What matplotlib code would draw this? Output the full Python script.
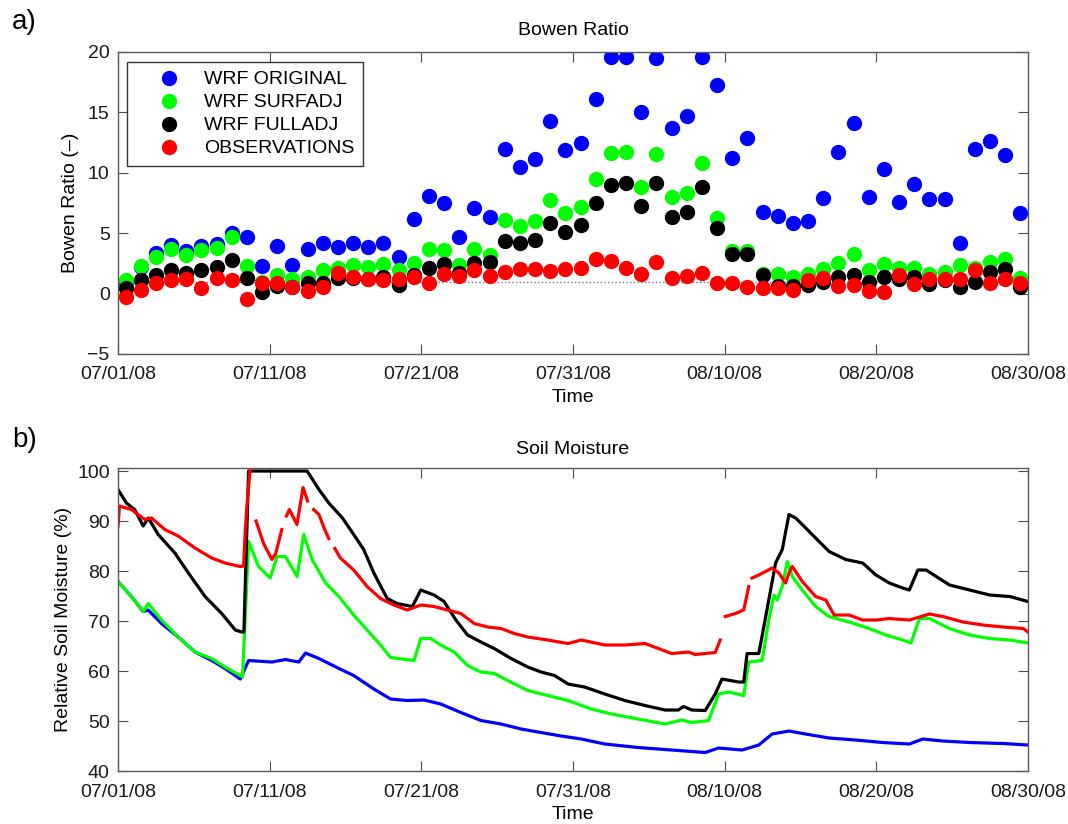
import numpy as np
import matplotlib
matplotlib.use("Agg")
import matplotlib.pyplot as plt

plt.rcParams['font.family'] = ['Liberation Sans', 'DejaVu Sans']
plt.rcParams['font.size'] = 14

# days since 07/01/08
tick_days = [0, 10, 20, 30, 40, 50, 60]
tick_labels = ['07/01/08', '07/11/08', '07/21/08', '07/31/08', '08/10/08', '08/20/08', '08/30/08']

# Bowen ratio, daily values (plotted at mid-day)
bowen_days = np.arange(60) + 0.5
wrf_original = [1.0, 2.2, 3.4, 4.0, 3.5, 3.9, 4.1, 5.0, 4.66, 2.28,
                3.97, 2.37, 3.66, 4.16, 3.88, 4.2, 3.83, 4.16, 3.05, 6.17,
                8.08, 7.47, 4.7, 7.1, 6.3, 11.94, 10.45, 11.14, 14.26, 11.89,
                12.44, 16.1, 19.6, 19.6, 15.0, 19.5, 13.7, 14.7, 19.6, 17.27,
                11.25, 12.9, 6.78, 6.42, 5.87, 6.04, 7.94, 11.75, 14.1, 8.03,
                10.3, 7.6, 9.07, 7.8, 7.8, 4.16, 12.0, 12.6, 11.47, 6.64]
wrf_surfadj = [1.1, 2.28, 3.06, 3.66, 3.2, 3.6, 3.8, 4.66, 2.28, 1.0,
               1.54, 1.18, 1.4, 1.95, 2.1, 2.37, 2.18, 2.45, 1.95, 2.56,
               3.66, 3.6, 2.37, 3.66, 3.2, 6.1, 5.6, 6.0, 7.72, 6.7,
               7.2, 9.46, 11.6, 11.7, 8.8, 11.56, 8.03, 8.36, 10.84, 6.23,
               3.55, 3.55, 1.6, 1.6, 1.35, 1.6, 2.04, 2.5, 3.28, 1.95,
               2.45, 2.09, 2.15, 1.6, 1.76, 2.37, 2.15, 2.64, 2.83, 1.26]
wrf_fulladj = [0.44, 1.1, 1.54, 1.95, 1.73, 1.95, 2.2, 2.78, 1.26, 0.16,
               0.63, 0.52, 0.85, 0.9, 1.3, 1.3, 1.2, 1.35, 0.71, 1.54,
               2.15, 2.45, 1.7, 2.56, 2.64, 4.35, 4.2, 4.44, 5.82, 5.12,
               5.68, 7.47, 8.99, 9.13, 7.28, 9.13, 6.3, 6.73, 8.8, 5.4,
               3.25, 3.25, 1.54, 0.6, 0.63, 0.71, 0.99, 1.4, 1.54, 1.0,
               1.35, 1.18, 1.35, 0.77, 1.1, 0.52, 0.93, 1.76, 2.04, 0.57]
observations = [-0.3, 0.3, 0.85, 1.12, 1.18, 0.5, 1.3, 1.12, -0.45, 0.85,
                0.9, 0.52, 0.24, 0.57, 1.68, 1.35, 1.18, 1.12, 1.18, 1.35,
                0.85, 1.6, 1.46, 1.95, 1.46, 1.81, 2.06, 2.06, 1.87, 2.06,
                2.09, 2.86, 2.72, 2.09, 1.62, 2.64, 1.32, 1.46, 1.68, 0.9,
                0.85, 0.57, 0.5, 0.43, 0.3, 1.12, 1.32, 0.63, 0.71, 0.24,
                0.1, 1.54, 0.79, 1.18, 1.18, 1.18, 1.95, 0.85, 1.18, 0.85]

# soil moisture (%)
sm_orig_days = [0, 0.88, 1.66, 1.99, 2.87, 3.97, 5.08, 6.18, 7.06, 8.06, 8.61, 10.15, 11.04,
                11.92, 12.36, 13.25, 14.57, 15.54, 16.87, 17.97, 19.07, 20.18, 21.28, 22.61,
                23.93, 25.26, 26.58, 27.9, 29.23, 30.55, 32.1, 34.3, 36.51, 38.72, 39.6, 41.15,
                42.25, 43.13, 44.24, 45.34, 46.89, 48.65, 50.42, 52.18, 53.07, 54.39, 56.16,
                58.37, 60]
sm_orig = [77.9, 74.9, 71.9, 72.2, 69.5, 66.8, 63.8, 62.1, 60.5, 58.4, 62.1, 61.8, 62.3,
           61.8, 63.6, 62.5, 60.5, 59.1, 56.4, 54.4, 54.1, 54.2, 53.4, 51.7,
           50.1, 49.4, 48.4, 47.7, 47.0, 46.4, 45.4, 44.7, 44.2, 43.7, 44.6, 44.2,
           45.2, 47.4, 48.0, 47.4, 46.6, 46.2, 45.7, 45.4, 46.4, 46.0, 45.7,
           45.5, 45.2]

sm_surf_days = [0, 0.88, 1.66, 1.99, 2.87, 3.97, 5.08, 6.18, 7.06, 8.06, 8.21, 8.61, 9.27,
                10.04, 10.49, 11.04, 11.81, 12.25, 12.8, 13.69, 14.57, 15.54, 16.43, 17.31,
                17.97, 19.52, 19.96, 20.62, 21.28, 22.17, 23.05, 23.93, 24.81, 25.7, 27.02,
                28.35, 29.67, 31.21, 32.54, 34.3, 36.07, 37.17, 37.84, 38.94, 39.6, 40.27,
                41.26, 41.59, 42.47, 42.91, 43.25, 43.47, 43.8, 44.13, 44.46, 45.12, 46.0,
                46.89, 48.21, 49.54, 50.64, 51.74, 52.29, 52.85, 53.51, 54.83, 56.16, 57.48,
                58.81, 60]
sm_surf = [77.9, 74.9, 71.9, 73.5, 70.2, 66.8, 63.8, 62.5, 60.8, 59.1, 58.8, 85.9, 80.9,
           78.6, 82.9, 82.9, 78.9, 87.3, 82.3, 77.6, 74.9, 71.2, 68.2, 65.2,
           62.7, 62.1, 66.5, 66.5, 65.2, 63.8, 61.1, 59.8, 59.5, 58.1, 56.1,
           55.1, 54.1, 52.4, 51.4, 50.4, 49.4, 50.2, 49.7, 50.1, 55.4, 55.8,
           55.1, 61.8, 62.1, 70.2, 75.2, 74.2, 76.9, 81.9, 78.9, 76.2, 72.9,
           70.9, 69.8, 68.5, 67.2, 66.2, 65.6, 70.5, 70.5, 68.5, 67.2, 66.5,
           66.2, 65.6]

sm_full_days = [0, 0.55, 1.1, 1.66, 2.0, 2.65, 3.75, 4.64, 5.74, 6.84, 7.73, 8.17, 8.3,
                8.61, 12.47, 13.25, 13.9, 14.8, 15.54, 16.2, 16.87, 17.75, 18.41, 19.41,
                19.96, 20.84, 21.5, 22.28, 23.05, 23.93, 24.81, 25.92, 27.02, 27.9, 28.79,
                29.67, 30.77, 32.1, 33.42, 34.75, 36.07, 36.95, 37.29, 37.84, 38.72, 39.38,
                39.82, 40.93, 41.26, 41.48, 42.25, 42.58, 42.91, 43.36, 43.8, 44.24, 44.68,
                45.12, 46.0, 46.89, 47.99, 49.1, 49.98, 50.86, 51.74, 52.18, 52.74, 53.29,
                53.95, 54.83, 56.16, 57.48, 58.81, 60]
sm_full = [96.3, 93.6, 92.3, 89.0, 90.6, 87.3, 83.6, 79.6, 74.9, 71.5, 68.2, 67.8, 67.8,
           100, 100, 96.3, 93.6, 90.6, 87.3, 84.3, 79.6, 74.5, 73.5, 72.9,
           76.2, 75.2, 73.9, 70.2, 67.2, 65.8, 64.5, 62.5, 60.8, 59.8, 59.1,
           57.4, 56.8, 55.4, 54.1, 53.1, 52.2, 52.2, 52.9, 52.2, 52.1, 55.4,
           58.4, 57.8, 57.8, 63.5, 63.5, 68.8, 74.2, 81.6, 84.3, 91.3, 90.6,
           89.3, 86.6, 83.9, 82.3, 81.6, 79.2, 77.6, 76.6, 76.2, 80.2, 80.2,
           78.9, 77.2, 76.2, 75.2, 74.9, 73.9]

sm_obs_days = [0, 0.1, 0.88, 1.32, 1.77, 2.21, 3.09, 3.97, 5.08, 6.18, 7.06, 8.06, 8.28,
               8.39, 8.5, 8.7, 8.85, 9.1, 9.6, 10.15, 10.4, 10.8, 10.9, 11.1, 11.3, 11.8,
               12.2, 12.5, 12.8, 12.9, 13.25, 13.6, 13.9, 14.2, 14.3, 14.66, 15.54, 16.43,
               17.31, 18.19, 19.07, 19.96, 20.84, 21.72, 22.61, 23.49, 24.37, 25.26, 26.14,
               27.02, 28.35, 29.67, 30.55, 32.1, 33.42, 34.75, 35.63, 36.51, 37.62, 38.06,
               39.38, 39.71, 39.85, 40.04, 40.71, 41.26, 41.59, 41.7, 41.81, 42.25, 43.13,
               43.58, 44.02, 44.24, 44.46, 44.9, 45.12, 46.0, 46.67, 47.22, 48.21, 49.1,
               49.98, 50.86, 52.18, 53.51, 54.39, 55.72, 57.04, 58.37, 59.69, 60]
sm_obs = [89.0, 93.0, 92.3, 91.3, 90.3, 90.6, 88.3, 87.0, 84.6, 82.6, 81.6, 80.9, 81.0,
          88.0, 93.0, 100, np.nan, 90.0, 85.5, 82.3, 83.5, 88.3, np.nan, 91.0, 92.3, 89.3,
          96.7, 94.0, np.nan, 92.3, 91.3, 88.5, 86.5, np.nan, 84.5, 82.6, 80.2, 76.9,
          74.5, 73.2, 72.2, 73.2, 72.9, 72.2, 71.5, 69.5, 68.8, 68.5, 67.5,
          66.8, 66.2, 65.5, 66.2, 65.2, 65.2, 65.5, 64.5, 63.5, 63.8, 63.3,
          63.7, 66.2, np.nan, 70.9, 71.5, 72.2, 76.9, np.nan, 78.6, 79.2, 80.6,
          79.6, 77.6, 79.6, 80.9, 78.9, 77.9, 74.9, 74.2, 71.2, 71.2, 70.2,
          70.2, 70.5, 70.2, 71.4, 70.9, 69.8, 69.2, 68.8, 68.5, 67.8]

fig = plt.figure(figsize=(10.68, 8.24), dpi=100)
ax1 = fig.add_axes([0.1105, 0.5704, 0.852, 0.3665])
ax2 = fig.add_axes([0.1105, 0.0643, 0.852, 0.3677])

# a) Bowen ratio
ax1.axhline(1, color='0.45', linestyle=':', linewidth=1.0, zorder=1)
ax1.plot(bowen_days, wrf_original, 'o', color='blue', markersize=10, label='WRF ORIGINAL')
ax1.plot(bowen_days, wrf_surfadj, 'o', color='#00ff00', markersize=10, label='WRF SURFADJ')
ax1.plot(bowen_days, wrf_fulladj, 'o', color='black', markersize=10, label='WRF FULLADJ')
ax1.plot(bowen_days, observations, 'o', color='red', markersize=10, label='OBSERVATIONS')
ax1.set_ylim(-5, 20)
ax1.set_yticks([-5, 0, 5, 10, 15, 20])
ax1.set_title('Bowen Ratio', fontsize=14, pad=12)
ax1.set_ylabel('Bowen Ratio (\u2013)', fontsize=14, labelpad=6)
leg = ax1.legend(loc='upper left', bbox_to_anchor=(0.01, 0.967), borderaxespad=0,
                 fancybox=False, framealpha=1, edgecolor='0.2', fontsize=14,
                 labelspacing=0.28, handlelength=3.4, handletextpad=0.1, borderpad=0.45)
leg.get_frame().set_linewidth(1.0)

# b) soil moisture
ax2.plot(sm_orig_days, sm_orig, color='blue', linewidth=2.3)
ax2.plot(sm_surf_days, sm_surf, color='#00ff00', linewidth=2.3)
ax2.plot(sm_full_days, sm_full, color='black', linewidth=2.3)
ax2.plot(sm_obs_days, sm_obs, color='red', linewidth=2.3)
ax2.set_ylim(40, 100.6)
ax2.set_yticks([40, 50, 60, 70, 80, 90, 100])
ax2.set_title('Soil Moisture', fontsize=14, pad=10)
ax2.set_ylabel('Relative Soil Moisture (%)', fontsize=14)

for ax in (ax1, ax2):
    ax.set_xlim(0, 60)
    ax.set_xticks(tick_days)
    ax.set_xticklabels(tick_labels)
    ax.set_xlabel('Time', fontsize=14, labelpad=4)
    ax.tick_params(direction='in', length=7, width=0.8, top=True, right=True,
                   labelsize=14, color='0.3', labelcolor='0.1', pad=6)
    ax.tick_params(axis='x', pad=9)
    for s in ax.spines.values():
        s.set_color('0.35')
        s.set_linewidth(1.0)

fig.text(0.011, 0.973, 'a)', fontsize=20, va='center', ha='left')
fig.text(0.011, 0.466, 'b)', fontsize=20, va='center', ha='left')

fig.savefig('out.png', dpi=100)
